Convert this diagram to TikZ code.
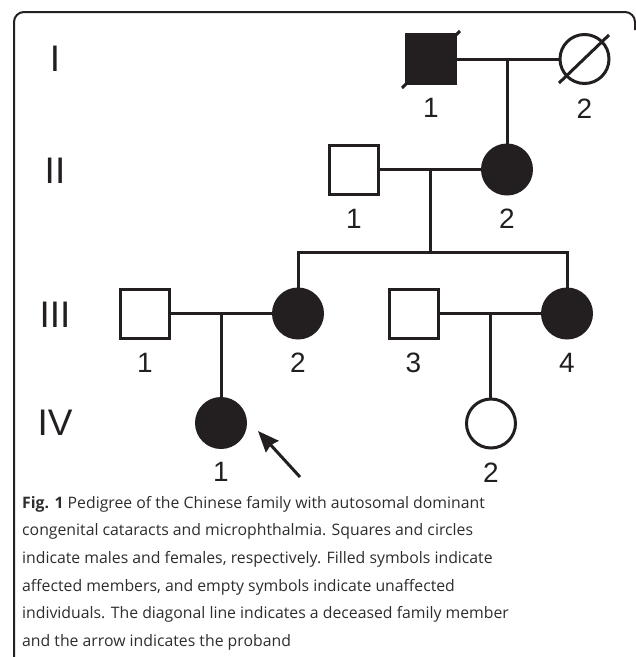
\documentclass[tikz,border=0pt]{standalone}
\usepackage{fontspec}
\setmainfont{Liberation Sans}
\newfontfamily\capfont{Open Sans}
\usetikzlibrary{positioning, arrows.meta}
\definecolor{pedink}{RGB}{35,31,32}
\definecolor{captext}{RGB}{45,45,45}

\begin{document}
\begin{tikzpicture}[x=1pt,y=-1pt,
    male/.style={rectangle, draw=pedink, line width=3pt, minimum size=49pt, inner sep=0pt},
    female/.style={circle, draw=pedink, line width=3pt, minimum size=49pt, inner sep=0pt},
    affected/.style={fill=pedink},
    link/.style={draw=pedink, line width=3pt},
    num/.style={font=\fontsize{28}{28}\selectfont, text=pedink},
    gen/.style={font=\fontsize{37}{37}\selectfont, text=pedink}]
\useasboundingbox (0,0) rectangle (636,657);
\draw[pedink, line width=2pt, rounded corners=10pt] (635,30) -- (635,12) -- (14,12) -- (14,662);

\node[gen] (genI) at (55,58.5) {I};
\node[gen] (genII) at (55,171) {II};
\node[gen] (genIII) at (55,315) {III};
\node[gen] (genIV) at (55,423) {IV};

\node[male, affected] (i1) at (431,59) {};
\node[female] (i2) at (584.5,59) {};
\node[male] (ii1) at (354,169.5) {};
\node[female, affected] (ii2) at (507,169.5) {};
\node[male] (iii1) at (145,313.5) {};
\node[female, affected] (iii2) at (298,313.5) {};
\node[male] (iii3) at (413.5,313.5) {};
\node[female, affected] (iii4) at (567,313.5) {};
\node[female, affected] (iv1) at (221,423) {};
\node[female] (iv2) at (491,423.5) {};

\node[num, below=10pt of i1] (i1n) {1};
\node[num, below=10pt of i2] (i2n) {2};
\node[num, below=10pt of ii1] (ii1n) {1};
\node[num, below=10pt of ii2] (ii2n) {2};
\node[num, below=10pt of iii1] (iii1n) {1};
\node[num, below=10pt of iii2] (iii2n) {2};
\node[num, below=10pt of iii3] (iii3n) {3};
\node[num, below=10pt of iii4] (iii4n) {4};
\node[num, below=10pt of iv1] (iv1n) {1};
\node[num, below=10pt of iv2] (iv2n) {2};

\draw[link] ([shift={(-29,29)}]i1.center) -- ([shift={(29,-28)}]i1.center);
\draw[link] ([shift={(-25.5,24)}]i2.center) -- ([shift={(24.5,-24)}]i2.center);

\draw[link] (i1) -- coordinate[pos=.5] (mI) (i2);
\draw[link] (mI) -- (mI |- ii2.north);
\draw[link] (ii1) -- coordinate[pos=.5] (mII) (ii2);
\draw[link] (iii2.north) -- ++(0,-35) coordinate (sibIII) -| (iii4.north);
\draw[link] (mII) -- (mII |- sibIII);
\draw[link] (iii1) -- coordinate[pos=.5] (mIIIa) (iii2);
\draw[link] (mIIIa) -- (mIIIa |- iv1.north);
\draw[link] (iii3) -- coordinate[pos=.5] (mIIIb) (iii4);
\draw[link] (mIIIb) -- (mIIIb |- iv2.north);

\coordinate (probtail) at (300,477);
\coordinate (probtip) at (258,431);
\draw[link, -{Stealth[length=21pt, width=17pt, inset=2pt]}] (probtail) -- (probtip);

\node[anchor=north west, align=left, inner sep=0pt, text=captext,
      font=\capfont\fontsize{15.8}{27.6}\selectfont] (caption) at (22,496)
  {\textbf{Fig. 1} Pedigree of the Chinese family with autosomal dominant\\
   congenital cataracts and microphthalmia. Squares and circles\\
   indicate males and females, respectively. Filled symbols indicate\\
   affected members, and empty symbols indicate unaffected\\
   individuals. The diagonal line indicates a deceased family member\\
   and the arrow indicates the proband};
\end{tikzpicture}
\end{document}
